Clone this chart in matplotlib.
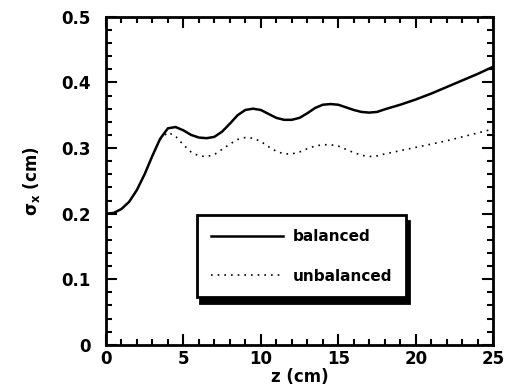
import matplotlib
matplotlib.use("Agg")
import matplotlib.pyplot as plt
from matplotlib.ticker import MultipleLocator

z_bal = [0, 0.5, 1.0, 1.5, 2.0, 2.5, 3.0, 3.5, 4.0, 4.5, 5.0, 5.5, 6.0, 6.5, 7.0,
         7.5, 8.0, 8.5, 9.0, 9.5, 10.0, 10.5, 11.0, 11.5, 12.0, 12.5, 13.0, 13.5,
         14.0, 14.5, 15.0, 15.5, 16.0, 16.5, 17.0, 17.5, 18.0, 19, 20, 21, 22, 23, 24, 25]
sig_bal = [0.200, 0.201, 0.207, 0.218, 0.236, 0.260, 0.288, 0.314, 0.330, 0.332,
           0.327, 0.320, 0.316, 0.315, 0.317, 0.325, 0.337, 0.350, 0.358, 0.360,
           0.358, 0.352, 0.346, 0.343, 0.343, 0.346, 0.353, 0.361, 0.366, 0.367,
           0.366, 0.362, 0.358, 0.355, 0.354, 0.355, 0.359, 0.366, 0.374, 0.383,
           0.393, 0.403, 0.413, 0.424]

z_unb = [3.5, 4.0, 4.5, 5.0, 5.5, 6.0, 6.5, 7.0, 7.5, 8.0, 8.5, 9.0, 9.5, 10.0,
         10.5, 11.0, 11.5, 12.0, 12.5, 13.0, 13.5, 14.0, 14.5, 15.0, 15.5, 16.0,
         16.5, 17.0, 17.5, 18.0, 19, 20, 21, 22, 23, 24, 25]
sig_unb = [0.313, 0.324, 0.318, 0.305, 0.294, 0.288, 0.287, 0.290, 0.298, 0.306,
           0.313, 0.316, 0.315, 0.310, 0.302, 0.295, 0.291, 0.291, 0.294, 0.299,
           0.303, 0.305, 0.305, 0.303, 0.298, 0.293, 0.289, 0.287, 0.288, 0.291,
           0.296, 0.301, 0.306, 0.311, 0.317, 0.323, 0.329]

ytick_vals = [0, 0.1, 0.2, 0.3, 0.4, 0.5]
ytick_labels = ['0', '0.1', '0.2', '0.3', '0.4', '0.5']

plt.rcParams['font.family'] = ['DejaVu Sans']
plt.rcParams['font.weight'] = 'bold'

fig = plt.figure(figsize=(5.09, 3.91), dpi=100)
ax = fig.add_axes([0.208, 0.118, 0.761, 0.839])

ax.plot(z_bal, sig_bal, color='black', lw=1.8, label='balanced')
ax.plot(z_unb, sig_unb, color='black', lw=1.2, ls=(0, (1, 3)), label='unbalanced')

ax.set_xlim(0, 25)
ax.set_ylim(0, 0.5)
ax.xaxis.set_major_locator(MultipleLocator(5))
ax.xaxis.set_minor_locator(MultipleLocator(1))
ax.yaxis.set_minor_locator(MultipleLocator(0.02))
ax.set_yticks(ytick_vals)
ax.set_yticklabels(ytick_labels)
ax.tick_params(which='both', direction='in', top=True, right=True,
               labelsize=12, width=1.5)
ax.tick_params(which='major', length=8)
ax.tick_params(which='minor', length=4)
ax.tick_params(axis='y', pad=11)
ax.tick_params(axis='x', pad=4)
for sp in ax.spines.values():
    sp.set_linewidth(2)

ax.set_xlabel('z (cm)', fontsize=12, fontweight='bold', labelpad=0)
ax.set_ylabel(r'$\mathbf{\sigma_x}$ (cm)', fontsize=12, fontweight='bold', labelpad=14)

leg = ax.legend(loc='center', bbox_to_anchor=(0.505, 0.27), fontsize=11,
                fancybox=False, edgecolor='black', framealpha=1,
                shadow={'color': 'black', 'alpha': 1, 'ox': 2, 'oy': -4},
                handlelength=4.7, labelspacing=1.6, borderpad=0.9,
                handletextpad=0.65)
leg.get_frame().set_linewidth(2)

fig.savefig('out.png', dpi=100)
